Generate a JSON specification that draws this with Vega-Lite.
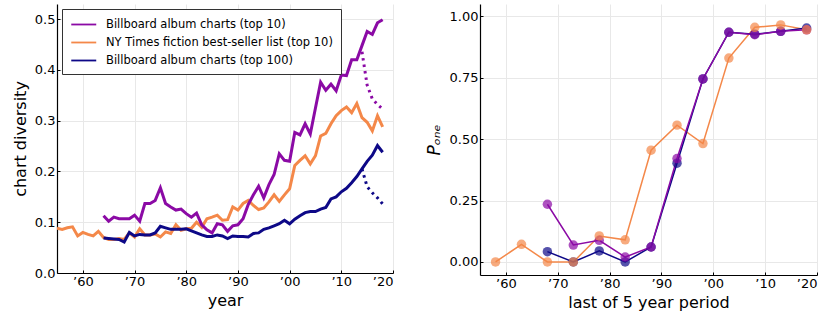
{
  "$schema": "https://vega.github.io/schema/vega-lite/v6.json",
  "background": "white",
  "padding": {"left": 12, "top": 4, "right": 2, "bottom": 4},
  "config": {
    "font": "DejaVu Sans",
    "view": {"stroke": null},
    "axis": {
      "domainColor": "black",
      "domainWidth": 1.2,
      "gridColor": "#e8e8e8",
      "gridWidth": 1,
      "tickColor": "black",
      "tickSize": -3,
      "labelFontSize": 13,
      "labelColor": "black",
      "titleFontSize": 16,
      "titleFontWeight": "normal",
      "titleColor": "black",
      "labelPadding": 5
    }
  },
  "datasets": {
    "div": [
      {"year": 1955, "NY Times fiction best-seller list (top 10)": 0.088},
      {"year": 1956, "NY Times fiction best-seller list (top 10)": 0.086},
      {"year": 1957, "NY Times fiction best-seller list (top 10)": 0.089},
      {"year": 1958, "NY Times fiction best-seller list (top 10)": 0.091},
      {"year": 1959, "NY Times fiction best-seller list (top 10)": 0.073},
      {"year": 1960, "NY Times fiction best-seller list (top 10)": 0.080},
      {"year": 1961, "NY Times fiction best-seller list (top 10)": 0.076},
      {"year": 1962, "NY Times fiction best-seller list (top 10)": 0.073},
      {"year": 1963, "NY Times fiction best-seller list (top 10)": 0.082},
      {"year": 1964, "Billboard album charts (top 10)": 0.113, "NY Times fiction best-seller list (top 10)": 0.070, "Billboard album charts (top 100)": 0.069},
      {"year": 1965, "Billboard album charts (top 10)": 0.102, "NY Times fiction best-seller list (top 10)": 0.066, "Billboard album charts (top 100)": 0.068},
      {"year": 1966, "Billboard album charts (top 10)": 0.110, "NY Times fiction best-seller list (top 10)": 0.066, "Billboard album charts (top 100)": 0.067},
      {"year": 1967, "Billboard album charts (top 10)": 0.107, "NY Times fiction best-seller list (top 10)": 0.068, "Billboard album charts (top 100)": 0.066},
      {"year": 1968, "Billboard album charts (top 10)": 0.107, "NY Times fiction best-seller list (top 10)": 0.066, "Billboard album charts (top 100)": 0.061},
      {"year": 1969, "Billboard album charts (top 10)": 0.107, "NY Times fiction best-seller list (top 10)": 0.079, "Billboard album charts (top 100)": 0.080},
      {"year": 1970, "Billboard album charts (top 10)": 0.114, "NY Times fiction best-seller list (top 10)": 0.071, "Billboard album charts (top 100)": 0.073},
      {"year": 1971, "Billboard album charts (top 10)": 0.102, "NY Times fiction best-seller list (top 10)": 0.087, "Billboard album charts (top 100)": 0.076},
      {"year": 1972, "Billboard album charts (top 10)": 0.137, "NY Times fiction best-seller list (top 10)": 0.075, "Billboard album charts (top 100)": 0.075},
      {"year": 1973, "Billboard album charts (top 10)": 0.137, "NY Times fiction best-seller list (top 10)": 0.075, "Billboard album charts (top 100)": 0.075},
      {"year": 1974, "Billboard album charts (top 10)": 0.143, "NY Times fiction best-seller list (top 10)": 0.077, "Billboard album charts (top 100)": 0.079},
      {"year": 1975, "Billboard album charts (top 10)": 0.168, "NY Times fiction best-seller list (top 10)": 0.071, "Billboard album charts (top 100)": 0.092},
      {"year": 1976, "Billboard album charts (top 10)": 0.137, "NY Times fiction best-seller list (top 10)": 0.081, "Billboard album charts (top 100)": 0.089},
      {"year": 1977, "Billboard album charts (top 10)": 0.130, "NY Times fiction best-seller list (top 10)": 0.078, "Billboard album charts (top 100)": 0.086},
      {"year": 1978, "Billboard album charts (top 10)": 0.124, "NY Times fiction best-seller list (top 10)": 0.095, "Billboard album charts (top 100)": 0.086},
      {"year": 1979, "Billboard album charts (top 10)": 0.126, "NY Times fiction best-seller list (top 10)": 0.084, "Billboard album charts (top 100)": 0.086},
      {"year": 1980, "Billboard album charts (top 10)": 0.117, "NY Times fiction best-seller list (top 10)": 0.087, "Billboard album charts (top 100)": 0.087},
      {"year": 1981, "Billboard album charts (top 10)": 0.110, "NY Times fiction best-seller list (top 10)": 0.088, "Billboard album charts (top 100)": 0.083},
      {"year": 1982, "Billboard album charts (top 10)": 0.118, "NY Times fiction best-seller list (top 10)": 0.100, "Billboard album charts (top 100)": 0.079},
      {"year": 1983, "Billboard album charts (top 10)": 0.095, "NY Times fiction best-seller list (top 10)": 0.090, "Billboard album charts (top 100)": 0.075},
      {"year": 1984, "Billboard album charts (top 10)": 0.085, "NY Times fiction best-seller list (top 10)": 0.107, "Billboard album charts (top 100)": 0.072},
      {"year": 1985, "Billboard album charts (top 10)": 0.079, "NY Times fiction best-seller list (top 10)": 0.110, "Billboard album charts (top 100)": 0.072},
      {"year": 1986, "Billboard album charts (top 10)": 0.097, "NY Times fiction best-seller list (top 10)": 0.114, "Billboard album charts (top 100)": 0.075},
      {"year": 1987, "Billboard album charts (top 10)": 0.095, "NY Times fiction best-seller list (top 10)": 0.104, "Billboard album charts (top 100)": 0.073},
      {"year": 1988, "Billboard album charts (top 10)": 0.082, "NY Times fiction best-seller list (top 10)": 0.105, "Billboard album charts (top 100)": 0.068},
      {"year": 1989, "Billboard album charts (top 10)": 0.093, "NY Times fiction best-seller list (top 10)": 0.130, "Billboard album charts (top 100)": 0.073},
      {"year": 1990, "Billboard album charts (top 10)": 0.095, "NY Times fiction best-seller list (top 10)": 0.124, "Billboard album charts (top 100)": 0.072},
      {"year": 1991, "Billboard album charts (top 10)": 0.107, "NY Times fiction best-seller list (top 10)": 0.137, "Billboard album charts (top 100)": 0.072},
      {"year": 1992, "Billboard album charts (top 10)": 0.135, "NY Times fiction best-seller list (top 10)": 0.143, "Billboard album charts (top 100)": 0.071},
      {"year": 1993, "Billboard album charts (top 10)": 0.154, "NY Times fiction best-seller list (top 10)": 0.133, "Billboard album charts (top 100)": 0.078},
      {"year": 1994, "Billboard album charts (top 10)": 0.171, "NY Times fiction best-seller list (top 10)": 0.125, "Billboard album charts (top 100)": 0.079},
      {"year": 1995, "Billboard album charts (top 10)": 0.148, "NY Times fiction best-seller list (top 10)": 0.128, "Billboard album charts (top 100)": 0.086},
      {"year": 1996, "Billboard album charts (top 10)": 0.174, "NY Times fiction best-seller list (top 10)": 0.140, "Billboard album charts (top 100)": 0.089},
      {"year": 1997, "Billboard album charts (top 10)": 0.194, "NY Times fiction best-seller list (top 10)": 0.154, "Billboard album charts (top 100)": 0.093},
      {"year": 1998, "Billboard album charts (top 10)": 0.235, "NY Times fiction best-seller list (top 10)": 0.141, "Billboard album charts (top 100)": 0.097},
      {"year": 1999, "Billboard album charts (top 10)": 0.222, "NY Times fiction best-seller list (top 10)": 0.154, "Billboard album charts (top 100)": 0.104},
      {"year": 2000, "Billboard album charts (top 10)": 0.220, "NY Times fiction best-seller list (top 10)": 0.166, "Billboard album charts (top 100)": 0.097},
      {"year": 2001, "Billboard album charts (top 10)": 0.277, "NY Times fiction best-seller list (top 10)": 0.212, "Billboard album charts (top 100)": 0.106},
      {"year": 2002, "Billboard album charts (top 10)": 0.272, "NY Times fiction best-seller list (top 10)": 0.222, "Billboard album charts (top 100)": 0.113},
      {"year": 2003, "Billboard album charts (top 10)": 0.294, "NY Times fiction best-seller list (top 10)": 0.231, "Billboard album charts (top 100)": 0.119},
      {"year": 2004, "Billboard album charts (top 10)": 0.274, "NY Times fiction best-seller list (top 10)": 0.215, "Billboard album charts (top 100)": 0.121},
      {"year": 2005, "Billboard album charts (top 10)": 0.325, "NY Times fiction best-seller list (top 10)": 0.231, "Billboard album charts (top 100)": 0.121},
      {"year": 2006, "Billboard album charts (top 10)": 0.376, "NY Times fiction best-seller list (top 10)": 0.270, "Billboard album charts (top 100)": 0.126},
      {"year": 2007, "Billboard album charts (top 10)": 0.360, "NY Times fiction best-seller list (top 10)": 0.275, "Billboard album charts (top 100)": 0.129},
      {"year": 2008, "Billboard album charts (top 10)": 0.372, "NY Times fiction best-seller list (top 10)": 0.294, "Billboard album charts (top 100)": 0.146},
      {"year": 2009, "Billboard album charts (top 10)": 0.359, "NY Times fiction best-seller list (top 10)": 0.310, "Billboard album charts (top 100)": 0.150},
      {"year": 2010, "Billboard album charts (top 10)": 0.390, "NY Times fiction best-seller list (top 10)": 0.320, "Billboard album charts (top 100)": 0.160},
      {"year": 2011, "Billboard album charts (top 10)": 0.389, "NY Times fiction best-seller list (top 10)": 0.327, "Billboard album charts (top 100)": 0.167},
      {"year": 2012, "Billboard album charts (top 10)": 0.420, "NY Times fiction best-seller list (top 10)": 0.316, "Billboard album charts (top 100)": 0.178},
      {"year": 2013, "Billboard album charts (top 10)": 0.420, "NY Times fiction best-seller list (top 10)": 0.334, "Billboard album charts (top 100)": 0.190},
      {"year": 2014, "Billboard album charts (top 10)": 0.448, "NY Times fiction best-seller list (top 10)": 0.306, "Billboard album charts (top 100)": 0.205},
      {"year": 2015, "Billboard album charts (top 10)": 0.476, "NY Times fiction best-seller list (top 10)": 0.297, "Billboard album charts (top 100)": 0.220},
      {"year": 2016, "Billboard album charts (top 10)": 0.470, "NY Times fiction best-seller list (top 10)": 0.280, "Billboard album charts (top 100)": 0.232},
      {"year": 2017, "Billboard album charts (top 10)": 0.493, "NY Times fiction best-seller list (top 10)": 0.310, "Billboard album charts (top 100)": 0.251},
      {"year": 2018, "Billboard album charts (top 10)": 0.499, "NY Times fiction best-seller list (top 10)": 0.288, "Billboard album charts (top 100)": 0.238}
    ],
    "dotted": [
      {"year": 2014, "top10": 0.436, "top100": 0.205},
      {"year": 2015, "top10": 0.370, "top100": 0.170},
      {"year": 2016, "top10": 0.343, "top100": 0.158},
      {"year": 2017, "top10": 0.332, "top100": 0.148},
      {"year": 2018, "top10": 0.323, "top100": 0.136}
    ],
    "pone": [
      {"year": 1958, "NY Times fiction best-seller list (top 10)": 0.0},
      {"year": 1963, "NY Times fiction best-seller list (top 10)": 0.072},
      {"year": 1968, "Billboard album charts (top 100)": 0.042, "Billboard album charts (top 10)": 0.235, "NY Times fiction best-seller list (top 10)": 0.0},
      {"year": 1973, "Billboard album charts (top 100)": 0.0, "Billboard album charts (top 10)": 0.069, "NY Times fiction best-seller list (top 10)": 0.0},
      {"year": 1978, "Billboard album charts (top 100)": 0.045, "Billboard album charts (top 10)": 0.088, "NY Times fiction best-seller list (top 10)": 0.106},
      {"year": 1983, "Billboard album charts (top 100)": 0.0, "Billboard album charts (top 10)": 0.020, "NY Times fiction best-seller list (top 10)": 0.090},
      {"year": 1988, "Billboard album charts (top 100)": 0.061, "Billboard album charts (top 10)": 0.061, "NY Times fiction best-seller list (top 10)": 0.455},
      {"year": 1993, "Billboard album charts (top 100)": 0.402, "Billboard album charts (top 10)": 0.421, "NY Times fiction best-seller list (top 10)": 0.557},
      {"year": 1998, "Billboard album charts (top 100)": 0.745, "Billboard album charts (top 10)": 0.745, "NY Times fiction best-seller list (top 10)": 0.482},
      {"year": 2003, "Billboard album charts (top 100)": 0.935, "Billboard album charts (top 10)": 0.935, "NY Times fiction best-seller list (top 10)": 0.830},
      {"year": 2008, "Billboard album charts (top 100)": 0.927, "Billboard album charts (top 10)": 0.925, "NY Times fiction best-seller list (top 10)": 0.955},
      {"year": 2013, "Billboard album charts (top 100)": 0.939, "Billboard album charts (top 10)": 0.939, "NY Times fiction best-seller list (top 10)": 0.965},
      {"year": 2018, "Billboard album charts (top 100)": 0.952, "Billboard album charts (top 10)": 0.945, "NY Times fiction best-seller list (top 10)": 0.945}
    ]
  },
  "hconcat": [
    {
      "width": 336,
      "height": 269,
      "layer": [
        {
          "data": {"name": "div"},
          "transform": [
            {"fold": ["Billboard album charts (top 10)", "NY Times fiction best-seller list (top 10)", "Billboard album charts (top 100)"], "as": ["series", "v"]},
            {"filter": "isValid(datum.v)"}
          ],
          "mark": {"type": "line", "strokeWidth": 3, "clip": true},
          "encoding": {
            "x": {"field": "year", "type": "quantitative",
              "scale": {"domain": [1955, 2020], "nice": false, "zero": false},
              "axis": {"title": "year", "values": [1960, 1970, 1980, 1990, 2000, 2010, 2020], "labelExpr": "'\u2019' + slice(toString(datum.value), 2)", "titlePadding": 4}},
            "y": {"field": "v", "type": "quantitative",
              "scale": {"domain": [0, 0.53], "nice": false},
              "axis": {"title": "chart diversity", "values": [0, 0.1, 0.2, 0.3, 0.4, 0.5], "format": ".1f", "titlePadding": 6}},
            "color": {"field": "series", "type": "nominal",
              "scale": {"domain": ["Billboard album charts (top 10)", "NY Times fiction best-seller list (top 10)", "Billboard album charts (top 100)"], "range": ["#8b0aa5", "#f48849", "#0d0887"]},
              "legend": {"title": null, "orient": "top-left", "offset": 5, "padding": 8, "strokeColor": "#333333", "fillColor": "white", "labelFontSize": 11.5, "labelLimit": 500, "labelColor": "black", "symbolType": "M-1,0L3,0", "symbolSize": 156, "symbolStrokeWidth": 1.8, "rowPadding": 5, "labelOffset": 21, "cornerRadius": 0}
            }
          }
        },
        {
          "data": {"name": "dotted"},
          "mark": {"type": "line", "strokeWidth": 3, "strokeDash": [2.5, 4], "color": "#8b0aa5"},
          "encoding": {
            "x": {"field": "year", "type": "quantitative"},
            "y": {"field": "top10", "type": "quantitative"}
          }
        },
        {
          "data": {"name": "dotted"},
          "mark": {"type": "line", "strokeWidth": 3, "strokeDash": [2.5, 4], "color": "#0d0887"},
          "encoding": {
            "x": {"field": "year", "type": "quantitative"},
            "y": {"field": "top100", "type": "quantitative"}
          }
        }
      ]
    },
    {
      "width": 337,
      "height": 271,
      "data": {"name": "pone"},
      "transform": [
        {"fold": ["Billboard album charts (top 100)", "Billboard album charts (top 10)", "NY Times fiction best-seller list (top 10)"], "as": ["series", "v"]},
        {"filter": "isValid(datum.v)"}
      ],
      "encoding": {
        "x": {"field": "year", "type": "quantitative",
          "scale": {"domain": [1955, 2020], "nice": false, "zero": false},
          "axis": {"title": "last of 5 year period", "values": [1960, 1970, 1980, 1990, 2000, 2010, 2020], "labelExpr": "'\u2019' + slice(toString(datum.value), 2)", "titlePadding": 4}},
        "y": {"field": "v", "type": "quantitative",
          "scale": {"domain": [-0.053, 1.05], "nice": false, "zero": false},
          "axis": {"title": "Pₒₙₑ", "titleFontStyle": "italic", "titleFontSize": 17, "values": [0, 0.25, 0.5, 0.75, 1], "format": ".2f", "titlePadding": 6}},
        "color": {"field": "series", "type": "nominal",
          "scale": {"domain": ["Billboard album charts (top 10)", "NY Times fiction best-seller list (top 10)", "Billboard album charts (top 100)"], "range": ["#8b0aa5", "#f48849", "#0d0887"]},
          "legend": null}
      },
      "layer": [
        {"mark": {"type": "line", "strokeWidth": 1.5}},
        {"mark": {"type": "point", "filled": true, "size": 90, "opacity": 0.7, "strokeWidth": 0}}
      ]
    }
  ],
  "spacing": 31,
  "resolve": {"scale": {"color": "shared"}}
}
